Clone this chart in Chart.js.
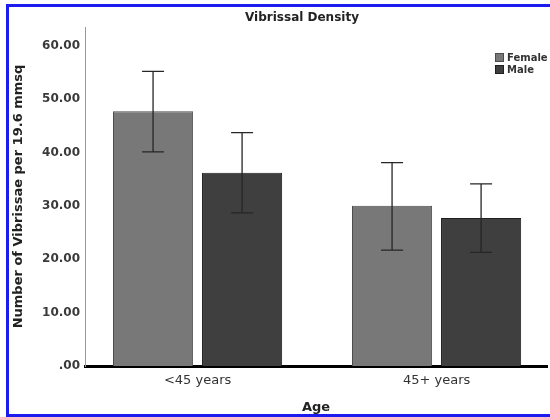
<!DOCTYPE html>
<html>
<head>
<meta charset="utf-8">
<script src="https://cdn.jsdelivr.net/npm/chart.js@4.4.1/dist/chart.umd.min.js"></script>
<style>
  html, body { margin: 0; padding: 0; background: #fff; }
  #wrap { width: 550px; height: 417px; position: relative; }
</style>
</head>
<body>
<div id="wrap"><canvas id="c" width="550" height="417"></canvas></div>
<script>
const categories = ['<45 years', '45+ years'];
const seriesNames = ['Female', 'Male'];
const femaleMean = [47.7, 30.0];
const femaleLow  = [40.1, 21.7];
const femaleHigh = [55.2, 38.1];
const maleMean   = [36.2, 27.7];
const maleLow    = [28.7, 21.3];
const maleHigh   = [43.7, 34.1];
const yTicks = [0, 10, 20, 30, 40, 50, 60];
const chartTitle = 'Vibrissal Density';
const xTitle = 'Age';
const yTitle = 'Number of Vibrissae per 19.6 mmsq';

const colors = {
  femaleFill: '#787878', femaleBorder: '#4c4c4c',
  maleFill: '#3f3f3f', maleBorder: '#1f1f1f',
  err: '#262626', frame: '#1c1cf0'
};

const toPoints = arr => arr.map((v, i) => ({ x: i, y: v }));

const errorBars = {
  id: 'errorBars',
  afterDatasetsDraw(chart) {
    const ctx = chart.ctx, y = chart.scales.y;
    const lows = [femaleLow, maleLow], highs = [femaleHigh, maleHigh];
    ctx.save();
    ctx.strokeStyle = colors.err;
    ctx.lineWidth = 1.3;
    chart.data.datasets.forEach((ds, i) => {
      const meta = chart.getDatasetMeta(i);
      meta.data.forEach((bar, j) => {
        const x = bar.x;
        const yh = y.getPixelForValue(highs[i][j]);
        const yl = y.getPixelForValue(lows[i][j]);
        const hw = 11;
        ctx.beginPath();
        ctx.moveTo(x, yh); ctx.lineTo(x, yl);
        ctx.moveTo(x - hw, yh); ctx.lineTo(x + hw, yh);
        ctx.moveTo(x - hw, yl); ctx.lineTo(x + hw, yl);
        ctx.stroke();
      });
    });
    ctx.restore();
  }
};

const decorations = {
  id: 'decorations',
  afterDraw(chart) {
    const ctx = chart.ctx;
    ctx.save();
    ctx.fillStyle = '#222';
    ctx.font = 'bold 12px "DejaVu Sans"';
    ctx.textAlign = 'center';
    ctx.textBaseline = 'middle';
    ctx.fillText(chartTitle, 302, 18);
    const fills = [colors.femaleFill, colors.maleFill];
    const borders = [colors.femaleBorder, colors.maleBorder];
    ctx.font = 'bold 10px "DejaVu Sans"';
    ctx.textAlign = 'left';
    seriesNames.forEach((name, i) => {
      const cy = 58 + i * 12;
      ctx.fillStyle = fills[i];
      ctx.fillRect(495, cy - 5, 9, 9);
      ctx.strokeStyle = borders[i];
      ctx.lineWidth = 1;
      ctx.strokeRect(495.5, cy - 4.5, 8, 8);
      ctx.fillStyle = '#333';
      ctx.fillText(name, 507, cy);
    });
    ctx.fillStyle = colors.frame;
    ctx.fillRect(6, 4, 544, 3);
    ctx.fillRect(6, 4, 3, 413);
    ctx.fillRect(6, 414, 544, 3);
    ctx.restore();
  }
};

new Chart(document.getElementById('c'), {
  type: 'bar',
  data: {
    datasets: [
      { label: seriesNames[0], data: toPoints(femaleMean), backgroundColor: colors.femaleFill,
        borderColor: colors.femaleBorder, borderWidth: 1 },
      { label: seriesNames[1], data: toPoints(maleMean), backgroundColor: colors.maleFill,
        borderColor: colors.maleBorder, borderWidth: 1 }
    ]
  },
  options: {
    responsive: false,
    animation: false,
    devicePixelRatio: 1,
    categoryPercentage: 0.745,
    barPercentage: 0.9,
    layout: { padding: { top: 27, right: 3, left: 0, bottom: 0 } },
    plugins: { legend: { display: false }, title: { display: false }, tooltip: { enabled: false } },
    scales: {
      x: {
        type: 'linear',
        offset: false,
        min: -0.471, max: 1.462,
        z: 1,
        grid: { display: false, drawTicks: false, offset: false },
        border: { display: true, color: '#000', width: 3 },
        afterBuildTicks(s) { s.ticks = categories.map((c, i) => ({ value: i })); },
        ticks: { color: '#333', font: { family: 'DejaVu Sans', size: 13 }, padding: 7,
                 autoSkip: false, maxRotation: 0,
                 callback: v => categories[v] },
        title: { display: true, text: xTitle, color: '#222',
                 font: { family: 'DejaVu Sans', size: 13, weight: 'bold' },
                 padding: { top: 0, bottom: 2 } },
        afterFit(s) { s.height = 51; }
      },
      y: {
        min: 0, max: 63.5,
        grid: { display: false, drawTicks: false },
        border: { display: true, color: '#9a9a9a', width: 1 },
        afterBuildTicks(s) { s.ticks = yTicks.map(v => ({ value: v })); },
        ticks: {
          color: '#3a3a3a', padding: 5,
          font: { family: 'DejaVu Sans', size: 12, weight: 'bold' },
          callback: v => v === 0 ? '.00' : v.toFixed(2)
        },
        title: { display: true, text: yTitle, color: '#222',
                 font: { family: 'DejaVu Sans', size: 13, weight: 'bold' },
                 padding: { top: 11, bottom: 0 } },
        afterFit(s) { s.width = 85; }
      }
    }
  },
  plugins: [errorBars, decorations]
});
</script>
</body>
</html>
